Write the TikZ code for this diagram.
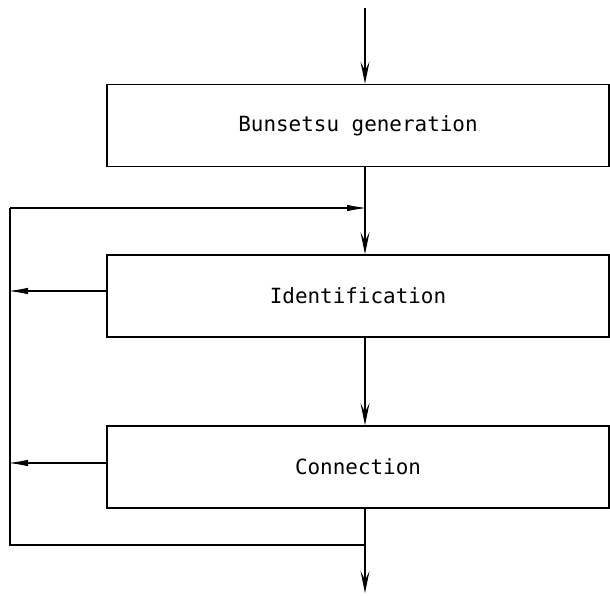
\documentclass[tikz,border=0pt]{standalone}
\usepackage{fontspec}
\setmonofont{DejaVu Sans Mono}
\usetikzlibrary{arrows.meta,positioning}
\begin{document}
\begin{tikzpicture}[x=1bp,y=-1bp]
		\tikzstyle{stage}=[draw,line width=1.6bp,minimum width=502bp,minimum height=82bp,inner sep=0pt,font=\ttfamily\fontsize{21}{24}\selectfont]
		\tikzstyle{flow}=[line width=1.2bp,-{Stealth[length=22bp,width=9bp,inset=9bp]}]
		\tikzstyle{back}=[line width=1.2bp,-{Latex[length=20bp,width=6.5bp]},shorten >=-2bp]
		\useasboundingbox (0,0) rectangle (610,596);

		\node[stage] (gen) at (358,125.5) {Bunsetsu generation};
		\node[stage] (ident) at (358,296) {Identification};
		\node[stage] (conn) at (358,467) {Connection};

		\coordinate (in) at (365,8);
		\coordinate (out) at (365,593);
		\coordinate (looptop) at (10,208);
		\coordinate (loopbot) at (10,545);

		\draw[flow] (in) -- (in |- gen.north);
		\draw[flow] (gen.south -| in) -- (in |- ident.north);
		\draw[flow] (ident.south -| in) -- (in |- conn.north);
		\draw[flow] (conn.south -| in) -- (out);

		% loop back to the top of identification
		\draw[back] (looptop) -- (looptop -| in);
		\draw[back] ([yshift=5bp]ident.west) -- ([yshift=5bp]ident.west -| looptop);
		\draw[back] ([yshift=4bp]conn.west) -- ([yshift=4bp]conn.west -| looptop);
		\draw[line width=1.2bp] (looptop) -- (loopbot) -- (loopbot -| in);
	\end{tikzpicture}
\end{document}
